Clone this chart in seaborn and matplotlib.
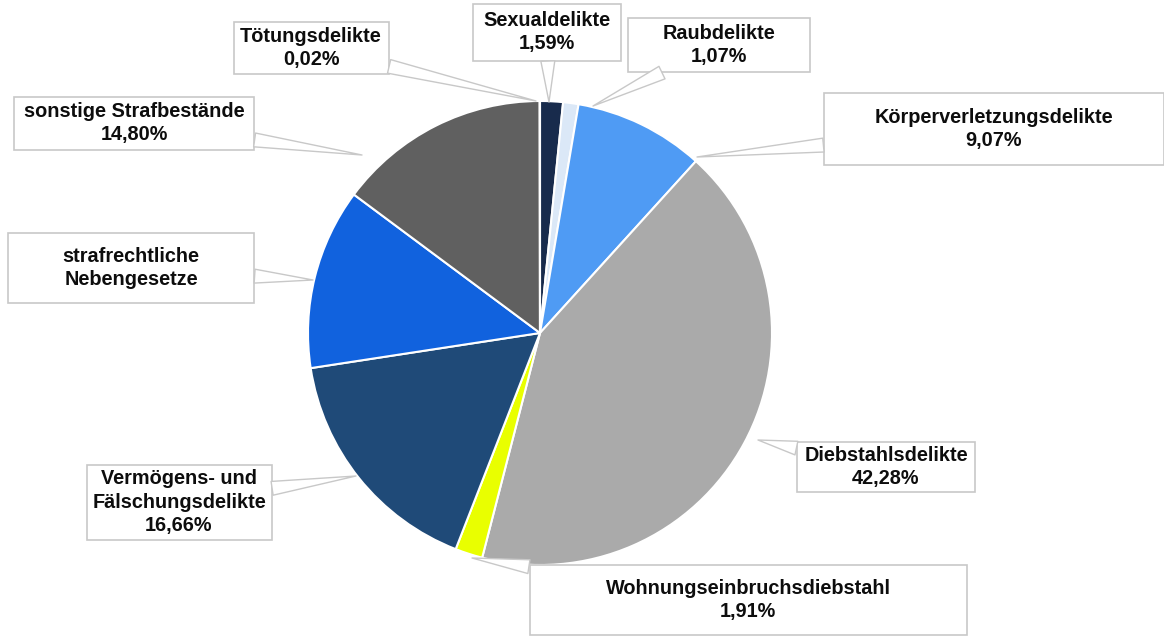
import matplotlib
matplotlib.use("Agg")
import matplotlib.pyplot as plt
import seaborn as sns

sns.set_theme(style="white")
plt.rcParams['font.family'] = ['Liberation Sans', 'DejaVu Sans']

# data (clockwise from 12 o'clock)
categories = ["Sexualdelikte", "Raubdelikte", "Körperverletzungsdelikte",
              "Diebstahlsdelikte", "Wohnungseinbruchsdiebstahl",
              "Vermögens- und\nFälschungsdelikte", "strafrechtliche\nNebengesetze",
              "sonstige Strafbestände", "Tötungsdelikte"]
shares = [1.59, 1.07, 9.07, 42.28, 1.91, 16.66, 12.60, 14.80, 0.02]
show_pct = [True, True, True, True, True, True, False, True, True]
colors = ["#182b4c", "#dbe8f7", "#4f9bf4", "#aaaaaa", "#e9ff00",
          "#1f4a78", "#1162de", "#606060", "#8a8a8a"]

# layout: label box centres and pointer tips in pixels of the 1164x637 image
label_px = [(547, 32), (719, 45), (994, 129), (886, 467), (748, 600),
            (179, 502), (131, 268), (134, 123), (311, 48)]
tip_px = [(549, 102), (593, 106), (697, 157), (758, 440), (472, 558),
          (356, 476), (313, 280), (362, 155), (536, 101)]
box_size = [(148, 57), (182, 54), (340, 72), (178, 50), (437, 70),
            (185, 75), (246, 70), (240, 53), (155, 52)]

CX, CY, R = 540, 333, 232
W, H = 1164, 637


def px(p):
    return ((p[0] - CX) / R, (CY - p[1]) / R)


fig = plt.figure(figsize=(W / 100, H / 100), dpi=100)
ax = fig.add_axes([0, 0, 1, 1])
ax.pie(shares, colors=colors, startangle=90, counterclock=False,
       wedgeprops=dict(edgecolor="white", linewidth=1.5))
ax.set_xlim(-CX / R, (W - CX) / R)
ax.set_ylim((CY - H) / R, CY / R)
ax.set_aspect("equal")
ax.axis("off")

for name, val, pct, lp, tp, bs in zip(categories, shares, show_pct,
                                      label_px, tip_px, box_size):
    txt = name + ("\n" + f"{val:.2f}".replace(".", ",") + "%" if pct else "")
    x0, y0 = px((lp[0] - bs[0] / 2, lp[1] + bs[1] / 2))
    rect = plt.Rectangle((x0, y0), bs[0] / R, bs[1] / R, facecolor="white",
                         edgecolor="#c8c8c8", linewidth=1.2, zorder=4)
    ax.add_patch(rect)
    ax.annotate(txt, xy=px(tp), xytext=px(lp), ha="center", va="center",
                fontsize=14.3, fontweight="bold", color="#0d0d0d",
                linespacing=1.3, zorder=5,
                arrowprops=dict(arrowstyle="wedge,tail_width=0.7,shrink_factor=0.5",
                                fc="white", ec="#c8c8c8", lw=1.0,
                                shrinkA=0, shrinkB=0, patchA=rect,
                                zorder=3))

fig.savefig("out.png", dpi=100)
